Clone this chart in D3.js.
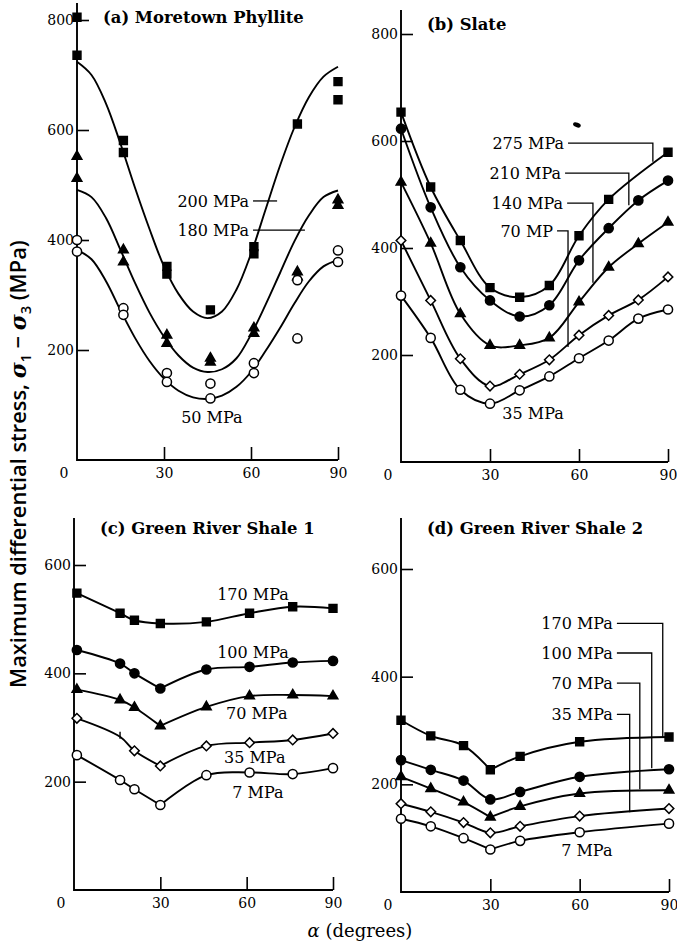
<!DOCTYPE html>
<html>
<meta charset="utf-8">
<style>
  body { margin: 0; background: #fff; }
  svg { display: block; }
</style>
<body>
<script src="https://d3js.org/d3.v7.min.js"></script>
<script>

// ---------- data (alpha in degrees, stress in MPa) ----------

// (a) Moretown Phyllite, measured points
var a200Pts = [[0,805],[0,736],[16,581],[16,559],[31,352],[31,338],[46,273],[61,388],[61,375],[76,611],[90,688],[90,655]];
var a180Pts = [[0,552],[0,512],[16,382],[16,360],[31,227],[31,212],[46,185],[46,178],[61,240],[61,230],[76,342],[76,333],[90,473],[90,463]];
var a50Pts  = [[0,400],[0,379],[16,276],[16,264],[31,158],[31,142],[46,139],[46,112],[61,176],[61,158],[76,327],[76,221],[90,381],[90,360]];
// (a) fitted curves
var fitAlpha = [0,5,10,15,20,25,30,35,40,45,50,55,60,65,70,75,80,85,90];
var a200Fit = [724,700,648,575,495,420,352,302,270,258,270,310,375,455,535,605,660,697,715];
var a180Fit = [491,478,440,382,322,268,224,190,168,160,165,185,228,282,340,398,445,478,490];
var a50Fit  = [382,365,325,272,222,180,148,126,114,111,117,133,160,198,240,285,325,352,364];

// (b) Slate
var slateAlpha = [0,10,20,30,40,50,60,70,80,90];
var b275 = [654,514,414,326,308,330,423,491,null,579];
var b210 = [623,476,364,302,272,293,377,437,489,526];
var b140 = [523,409,277,218,218,232,299,364,408,448];
var b70  = [414,302,193,142,164,191,237,274,303,346];
var b35  = [311,232,135,109,134,160,194,227,268,285];

// (c) Green River Shale 1
var shale1Alpha = [1,16,21,30,46,61,76,90];
var c170 = [548,511,498,492,495,511,523,520];
var c100 = [443,418,400,372,407,412,420,423];
var c70  = [370,351,337,303,338,358,360,358];
var c35  = [317,283,257,229,266,272,277,289];
var c7   = [249,203,186,157,212,217,214,225];

// (d) Green River Shale 2
var shale2Alpha = [0,10,21,30,40,60,90];
var d170 = [319,290,272,227,252,279,288];
var d100 = [245,227,207,172,186,214,228];
var d70  = [214,192,167,139,159,183,189];
var d35  = [164,149,129,110,122,141,155];
var d7   = [136,122,100,79,95,111,127];

var xTicks = [30, 60, 90];
var yTicksTop = [200, 400, 600, 800];
var yTicksBottom = [200, 400, 600];

// ---------- layout ----------
var width = 677, height = 949;
var serif = '"DejaVu Serif", serif';

var svg = d3.select("body").append("svg")
  .attr("width", width)
  .attr("height", height);

var markers = {
  sq:   {type: d3.symbolSquare,   size: 62, fill: "#000", rot: 0},
  dot:  {type: d3.symbolCircle,   size: 66, fill: "#000", rot: 0},
  tri:  {type: d3.symbolTriangle, size: 40, fill: "#000", rot: 0},
  dia:  {type: d3.symbolSquare,   size: 46, fill: "#fff", rot: 45},
  ring: {type: d3.symbolCircle,   size: 66, fill: "#fff", rot: 0}
};

function zipA(alpha, vals) {
  return alpha.map(function(a, i) { return [a, vals[i]]; }).filter(function(d) { return d[1] != null; });
}

var panels = [
  {
    title: "(a) Moretown Phyllite", xr: [77, 338], ymax: 800, yr: [460, 20], top: 3, yticks: yTicksTop,
    points: [{pts: a200Pts, m: "sq"}, {pts: a180Pts, m: "tri"}, {pts: a50Pts, m: "ring"}],
    curves: [zipA(fitAlpha, a200Fit), zipA(fitAlpha, a180Fit), zipA(fitAlpha, a50Fit)],
    labels: [
      {text: "200 MPa", leader: [[60.7, 471], [69, 471]]},
      {text: "180 MPa", leader: [[60.7, 418], [78.6, 418]]},
      {text: "50 MPa", at: [46.5, 78]}
    ]
  },
  {
    title: "(b) Slate", xr: [401, 668], ymax: 800, yr: [462, 34], top: 10, yticks: yTicksTop,
    points: [{pts: zipA(slateAlpha, b275), m: "sq"}, {pts: zipA(slateAlpha, b210), m: "dot"},
             {pts: zipA(slateAlpha, b140), m: "tri"}, {pts: zipA(slateAlpha, b70), m: "dia"},
             {pts: zipA(slateAlpha, b35), m: "ring"}],
    labels: [
      {text: "275 MPa", leader: [[56.3, 596], [84.9, 596], [84.9, 561]]},
      {text: "210 MPa", leader: [[55.3, 540], [76.8, 540], [76.8, 480]]},
      {text: "140 MPa", leader: [[56, 484], [64.7, 484], [64.7, 335]]},
      {text: "70 MP",   leader: [[52.6, 432], [56.3, 432], [56.3, 215]]},
      {text: "35 MPa", at: [44.5, 92]}
    ],
    blob: [59.3, 630]
  },
  {
    title: "(c) Green River Shale 1", xr: [74, 333], ymax: 600, yr: [890, 565], top: 518, yticks: yTicksBottom,
    points: [{pts: zipA(shale1Alpha, c170), m: "sq"}, {pts: zipA(shale1Alpha, c100), m: "dot"},
             {pts: zipA(shale1Alpha, c70), m: "tri"}, {pts: zipA(shale1Alpha, c35), m: "dia", broken: [1]},
             {pts: zipA(shale1Alpha, c7), m: "ring"}],
    kink: 30,
    labels: [
      {text: "170 MPa", at: [62.2, 546]},
      {text: "100 MPa", at: [62.2, 439]},
      {text: "70 MPa", at: [63.5, 327]},
      {text: "35 MPa", at: [62.8, 246]},
      {text: "7 MPa", at: [63.9, 181]}
    ]
  },
  {
    title: "(d) Green River Shale 2", xr: [401, 669], ymax: 600, yr: [892, 569], top: 518, yticks: yTicksBottom,
    points: [{pts: zipA(shale2Alpha, d170), m: "sq"}, {pts: zipA(shale2Alpha, d100), m: "dot"},
             {pts: zipA(shale2Alpha, d70), m: "tri"}, {pts: zipA(shale2Alpha, d35), m: "dia"},
             {pts: zipA(shale2Alpha, d7), m: "ring"}],
    kink: 30,
    labels: [
      {text: "170 MPa", leader: [[72.5, 499], [87.9, 499], [87.9, 288]]},
      {text: "100 MPa", leader: [[72.5, 444], [84.2, 444], [84.2, 230]]},
      {text: "70 MPa",  leader: [[72.5, 388], [80.2, 388], [80.2, 191]]},
      {text: "35 MPa",  leader: [[72.5, 330], [76.8, 330], [76.8, 148]]},
      {text: "7 MPa", at: [62.4, 77]}
    ]
  }
];

panels.forEach(drawPanel);

function drawPanel(p) {
  var x = d3.scaleLinear().domain([0, 90]).range(p.xr);
  var y = d3.scaleLinear().domain([0, p.ymax]).range(p.yr);
  var g = svg.append("g");

  // y axis
  g.append("g")
    .attr("transform", "translate(" + p.xr[0] + ",0)")
    .call(d3.axisLeft(y).tickValues(p.yticks).tickSizeInner(-12).tickSizeOuter(0).tickPadding(3))
    .call(function(a) { a.select(".domain").remove(); })
    .call(styleAxis);
  g.append("line")
    .attr("x1", x(0)).attr("x2", x(0))
    .attr("y1", y(0) + 0.9).attr("y2", p.top)
    .attr("stroke", "#000").attr("stroke-width", 1.9);

  // x axis
  g.append("g")
    .attr("transform", "translate(0," + y(0) + ")")
    .call(d3.axisBottom(x).tickValues(xTicks).tickSizeInner(-13).tickSizeOuter(0).tickPadding(8))
    .call(function(a) { a.select(".domain").remove(); })
    .call(styleAxis);
  g.append("line")
    .attr("x1", x(0)).attr("x2", x(90))
    .attr("y1", y(0)).attr("y2", y(0))
    .attr("stroke", "#000").attr("stroke-width", 1.9);
  g.append("text")
    .attr("x", x(0) - 13).attr("y", y(0) + 8)
    .attr("dy", "0.71em")
    .attr("text-anchor", "middle")
    .style("font-family", serif).style("font-size", "14px")
    .text("0");

  // title
  g.append("text")
    .attr("x", x(0) + 26).attr("y", p.top + (p.top < 20 ? 20 : 16))
    .style("font-family", serif).style("font-size", "16.4px").style("font-weight", "bold")
    .text(p.title);

  var line = d3.line()
    .x(function(d) { return x(d[0]); })
    .y(function(d) { return y(d[1]); })
    .curve(d3.curveCatmullRom.alpha(0.5));

  // curves
  var curveSets = p.curves ? p.curves : p.points.map(function(s) { return s.pts; });
  curveSets.forEach(function(pts) {
    var pieces = [pts];
    if (p.kink != null) {
      var k = pts.findIndex(function(d) { return d[0] === p.kink; });
      if (k > 0 && k < pts.length - 1 && pts[k - 1][1] - pts[k][1] > 15 && pts[k + 1][1] - pts[k][1] > 15) {
        pieces = [pts.slice(0, k + 1), pts.slice(k)];
      }
    }
    pieces.forEach(function(pc) {
      g.append("path")
        .attr("d", line(pc))
        .attr("fill", "none")
        .attr("stroke", "#000")
        .attr("stroke-width", 1.9);
    });
  });

  // markers
  p.points.forEach(function(s) {
    var mk = markers[s.m];
    var sym = d3.symbol().type(mk.type).size(mk.size);
    s.pts.forEach(function(d, i) {
      if (s.broken && s.broken.indexOf(i) >= 0) {
        g.append("line")
          .attr("x1", x(d[0])).attr("x2", x(d[0]))
          .attr("y1", y(d[1]) - 5).attr("y2", y(d[1]) + 2)
          .attr("stroke", "#000").attr("stroke-width", 1.4);
        return;
      }
      g.append("path")
        .attr("d", sym())
        .attr("transform", "translate(" + x(d[0]) + "," + y(d[1]) + ") rotate(" + mk.rot + ")")
        .attr("fill", mk.fill)
        .attr("stroke", "#000")
        .attr("stroke-width", 1.5);
    });
  });

  // labels with leaders
  p.labels.forEach(function(l) {
    if (l.leader) {
      g.append("path")
        .attr("d", d3.line().x(function(d) { return x(d[0]); }).y(function(d) { return y(d[1]); })(l.leader))
        .attr("fill", "none").attr("stroke", "#000").attr("stroke-width", 1.3);
      g.append("text")
        .attr("x", x(l.leader[0][0]) - 4).attr("y", y(l.leader[0][1]))
        .attr("dy", "0.36em")
        .attr("text-anchor", "end")
        .style("font-family", serif).style("font-size", "16px")
        .text(l.text);
    } else {
      g.append("text")
        .attr("x", x(l.at[0])).attr("y", y(l.at[1]))
        .attr("dy", "0.36em")
        .attr("text-anchor", "middle")
        .style("font-family", serif).style("font-size", "16px")
        .text(l.text);
    }
  });

  if (p.blob) {
    g.append("ellipse")
      .attr("cx", x(p.blob[0])).attr("cy", y(p.blob[1]))
      .attr("rx", 4).attr("ry", 2.3)
      .attr("transform", "rotate(20," + x(p.blob[0]) + "," + y(p.blob[1]) + ")")
      .attr("fill", "#000");
  }
}

function styleAxis(a) {
  a.selectAll(".tick line").attr("stroke", "#000").attr("stroke-width", 1.6);
  a.selectAll(".tick text")
    .attr("fill", "#000")
    .style("font-family", serif)
    .style("font-size", "14px");
}

// axis titles
var ylab = svg.append("text")
  .attr("text-anchor", "start")
  .style("font-family", '"Open Sans", sans-serif')
  .style("font-size", "17px")
  .style("font-weight", "600");
ylab.append("tspan").text("Maximum differential stress, ");
ylab.append("tspan").style("font-family", serif).style("font-style", "italic").text("σ");
ylab.append("tspan").attr("dy", 4).style("font-size", "11px").text("1");
ylab.append("tspan").attr("dy", -4).text(" − ");
ylab.append("tspan").style("font-family", serif).style("font-style", "italic").text("σ");
ylab.append("tspan").attr("dy", 4).style("font-size", "11px").text("3");
ylab.append("tspan").attr("dy", -4).text(" (MPa)");
// fit the label to the span it covers in the figure: y 688 (start) to 240 (end)
var yl = ylab.node().getComputedTextLength();
var ys = 448 / yl;
ylab.attr("transform", "translate(26,688) rotate(-90) scale(" + ys + ")");

var xlab = svg.append("text")
  .attr("x", 360).attr("y", 937)
  .attr("text-anchor", "middle")
  .style("font-family", serif)
  .style("font-size", "18px");
xlab.append("tspan").style("font-style", "italic").text("α");
xlab.append("tspan").text(" (degrees)");

</script>
</body>
</html>
